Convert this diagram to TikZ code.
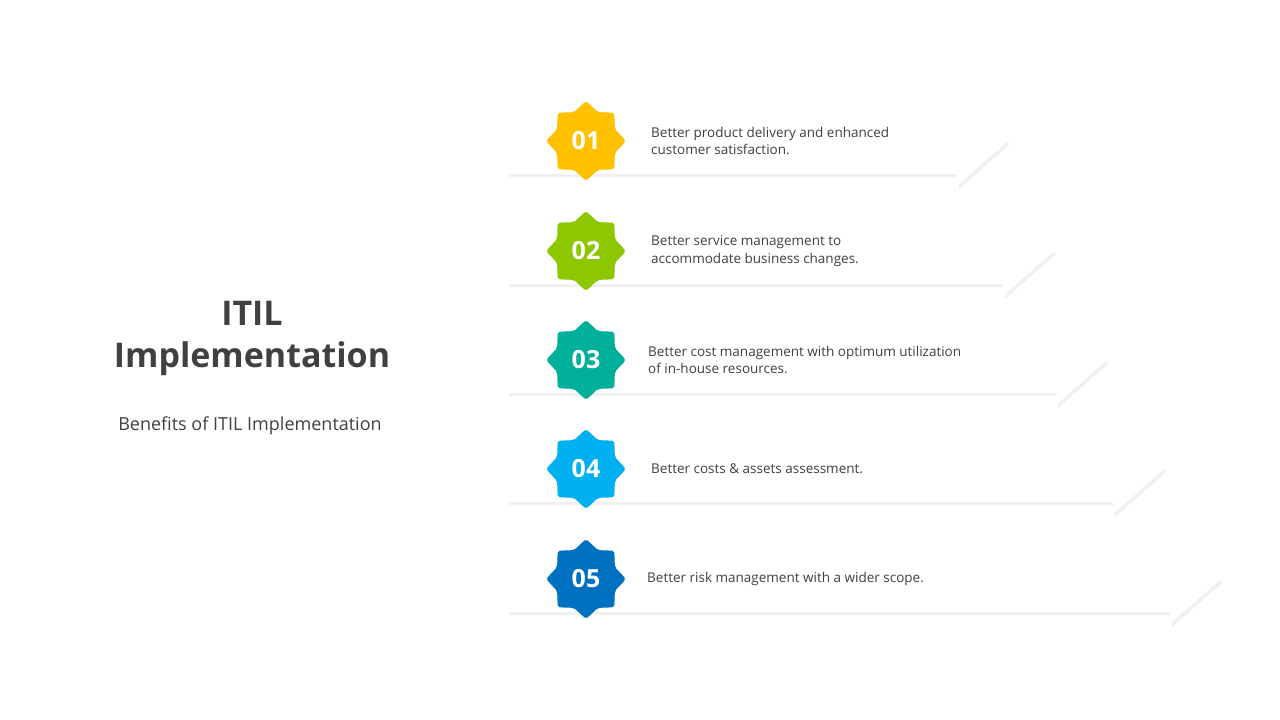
\documentclass[tikz,border=0pt]{standalone}
\usepackage{fontspec}
\setmainfont{Open Sans}
\usetikzlibrary{shapes.geometric,shadows}
\definecolor{txt}{HTML}{404040}
\definecolor{cyel}{HTML}{FFC000}
\definecolor{cgrn}{HTML}{8DC700}
\definecolor{ctea}{HTML}{00B09A}
\definecolor{csky}{HTML}{00B0F0}
\definecolor{cblu}{HTML}{0070C0}
\tikzset{
  banner/.style={fill=white,drop shadow={opacity=0.12,shadow xshift=2pt,shadow yshift=-3pt}},
  badge/.style={star,star points=8,star point ratio=1.28,minimum size=80pt,inner sep=0pt,
    text=white,font=\fontsize{25}{25}\selectfont\bfseries,rounded corners=2pt},
  note/.style={anchor=west,align=left,text=txt,font=\fontsize{13.5}{17.5}\selectfont,inner sep=0pt}
}
\begin{document}
\begin{tikzpicture}[x=1pt,y=-1pt]
  \useasboundingbox (0,0) rectangle (1280,720);
  \node[text=txt,font=\fontsize{34}{42}\selectfont\bfseries,align=center] (title) at (252,338) {ITIL\\Implementation};
  \node[text=txt,font=\fontsize{18}{22}\selectfont] (sub) at (250,426) {Benefits of ITIL Implementation};
  \foreach \y/\e/\c/\n/\tx/\t in {
      141/957/cyel/01/651/{Better product delivery and enhanced\\customer satisfaction.},
      251/1003/cgrn/02/651/{Better service management to\\accommodate business changes.},
      360/1056/ctea/03/648/{Better cost management with optimum utilization\\of in-house resources.},
      469/1113/csky/04/651/{Better costs \& assets assessment.},
      579/1170/cblu/05/647/{Better risk management with a wider scope.}}{
    \fill[banner] (507,\y-33) -- (\e,\y-33) -- (\e,\y-45) -- (\e+51,\y) -- (\e,\y+45)
      -- (\e,\y+33) -- (507,\y+33) -- cycle;
    \node[badge,fill=\c] (b\n) at (586,\y) {\n};
    \node[note] (t\n) at (\tx,\y) {\t};
  }
\end{tikzpicture}
\end{document}
